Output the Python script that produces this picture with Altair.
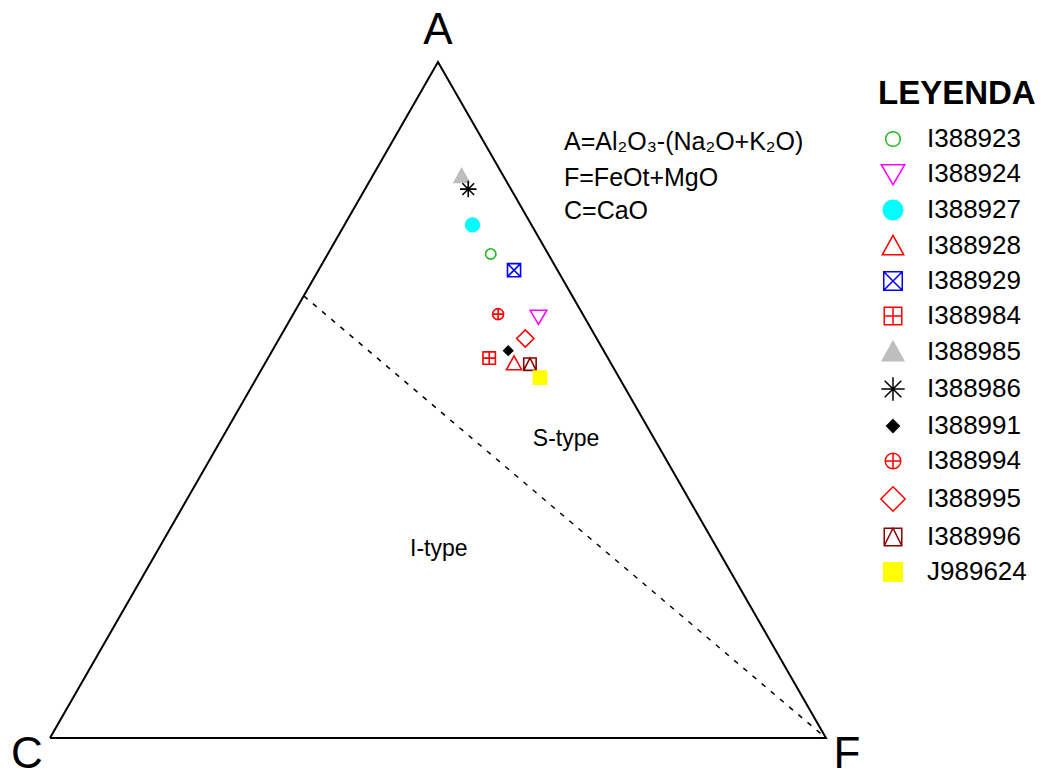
import altair as alt
import pandas as pd

# ---- data (ternary compositions, fractions of A + C + F = 1) ----
samples = ["I388923", "I388924", "I388927", "I388928", "I388929", "I388984",
           "I388985", "I388986", "I388991", "I388994", "I388995", "I388996", "J989624"]
A_vals = [0.716, 0.623, 0.759, 0.554, 0.692, 0.562, 0.831, 0.812, 0.573, 0.627, 0.591, 0.553, 0.533]
F_vals = [0.210, 0.318, 0.165, 0.321, 0.252, 0.285, 0.115, 0.133, 0.304, 0.264, 0.317, 0.342, 0.365]
C_vals = [round(1 - a - f, 3) for a, f in zip(A_vals, F_vals)]

stroke_colors = ["#22BB22", "#FF00FF", "#00FFFF", "#FF0000", "#0000FF", "#FF0000",
                 "#BEBEBE", "#000000", "#000000", "#FF0000", "#FF0000", "#8B0000", "#FFFF00"]
fill_colors = ["transparent", "transparent", "#00FFFF", "transparent", "transparent", "transparent",
               "#BEBEBE", "transparent", "#000000", "transparent", "transparent", "transparent", "#FFFF00"]
shapes = [
    "M-0.75,0A0.75,0.75 0 1,0 0.75,0A0.75,0.75 0 1,0 -0.75,0Z",
    "M-1.2,-0.95L1.2,-0.95L0,1.1Z",
    "circle",
    "M-1.1,0.9L1.1,0.9L0,-1.1Z",
    "M-0.95,-0.95H0.95V0.95H-0.95Z M-0.95,-0.95L0.95,0.95 M0.95,-0.95L-0.95,0.95",
    "M-0.9,-0.9H0.9V0.9H-0.9Z M0,-0.9V0.9 M-0.9,0H0.9",
    "M-1.1,0.9L1.1,0.9L0,-1.1Z",
    "M0,-1.2V1.2 M-1.2,0H1.2 M-0.85,-0.85L0.85,0.85 M0.85,-0.85L-0.85,0.85",
    "M0,-0.65L0.65,0L0,0.65L-0.65,0Z",
    "M-0.8,0A0.8,0.8 0 1,0 0.8,0A0.8,0.8 0 1,0 -0.8,0Z M0,-0.8V0.8 M-0.8,0H0.8",
    "M0,-1.25L1.25,0L0,1.25L-1.25,0Z",
    "M-0.9,-0.9H0.9V0.9H-0.9Z M-0.9,0.9L0,-0.9L0.9,0.9",
    "M-0.95,-0.95H0.95V0.95H-0.95Z",
]

# triangle outline: C -> F -> A -> C
outline_names = ["C", "F", "A", "C"]
outline_A = [0.0, 0.0, 1.0, 0.0]
outline_F = [0.0, 1.0, 0.0, 0.0]

# I/S-type boundary: from CA edge to F apex
bound_A = [0.654, 0.0]
bound_F = [0.0, 1.0]

# vertex labels
vert_names = ["A", "C", "F"]
vert_A = [1.0, 0.0, 0.0]
vert_F = [0.0, 0.0, 1.0]
vert_dx = [0, -23, 21]
vert_dy = [-18, 30, 30]

# region labels
region_names = ["S-type", "I-type"]
region_A = [0.442, 0.280]
region_F = [0.444, 0.361]

formula_lines = ["A=Al₂O₃-(Na₂O+K₂O)", "F=FeOt+MgO", "C=CaO"]
formula_ypix = [134, 170, 203]


def tern_x(a, f):
    return f + a / 2.0


pts = pd.DataFrame({"sample": samples, "A": A_vals, "C": C_vals, "F": F_vals})
pts["x"] = tern_x(pts["A"], pts["F"])
pts["y"] = pts["A"]

outline = pd.DataFrame({"v": outline_names, "A": outline_A, "F": outline_F,
                        "order": list(range(len(outline_names)))})
outline["x"] = tern_x(outline["A"], outline["F"])
outline["y"] = outline["A"]

bound = pd.DataFrame({"A": bound_A, "F": bound_F, "order": [0, 1]})
bound["x"] = tern_x(bound["A"], bound["F"])
bound["y"] = bound["A"]

regions = pd.DataFrame({"label": region_names, "A": region_A, "F": region_F})
regions["x"] = tern_x(regions["A"], regions["F"])
regions["y"] = regions["A"]

W, H = 1031, 761
xs = alt.Scale(domain=[-0.0541, -0.0541 + W / 776.0], nice=False, zero=False)
ys = alt.Scale(domain=[-0.04586, -0.04586 + H / 676.0], nice=False, zero=False)
X = lambda: alt.X("x:Q", scale=xs, axis=None)
Y = lambda: alt.Y("y:Q", scale=ys, axis=None)

FONT = "Liberation Sans"

tri = alt.Chart(outline).mark_line(color="black", strokeWidth=2).encode(
    x=X(), y=Y(), order="order:Q")

dashed = alt.Chart(bound).mark_line(color="black", strokeWidth=1.5, strokeDash=[5, 7]).encode(
    x=X(), y=Y(), order="order:Q")

vtext_layers = []
for name, a, f, dx, dy in zip(vert_names, vert_A, vert_F, vert_dx, vert_dy):
    d = pd.DataFrame({"label": [name], "x": [tern_x(a, f)], "y": [a]})
    vtext_layers.append(
        alt.Chart(d).mark_text(font=FONT, fontSize=44, align="center", baseline="alphabetic",
                               dx=dx, dy=dy, color="black").encode(x=X(), y=Y(), text="label:N"))

region_text = alt.Chart(regions).mark_text(font=FONT, fontSize=23, align="center",
                                           baseline="middle", color="black").encode(
    x=X(), y=Y(), text="label:N")

formula_layers = []
for t, yp in zip(formula_lines, formula_ypix):
    d = pd.DataFrame({"t": [t]})
    formula_layers.append(
        alt.Chart(d).mark_text(font=FONT, fontSize=25, align="left", baseline="middle",
                               color="black").encode(x=alt.value(556), y=alt.value(yp), text="t:N"))

leg = alt.Legend(orient="none", legendX=870, legendY=70, title="LEYENDA",
                 titleFont=FONT, titleFontSize=33, titleFontWeight="bold", titleColor="black",
                 titlePadding=15, labelFont=FONT, labelFontSize=26, labelColor="black",
                 symbolSize=380, symbolStrokeWidth=1.5, rowPadding=9, labelOffset=21,
                 symbolOffset=2, padding=0)

points = alt.Chart(pts).mark_point(size=190, strokeWidth=1.6, opacity=1).encode(
    x=X(), y=Y(),
    shape=alt.Shape("sample:N", scale=alt.Scale(domain=samples, range=shapes), legend=leg),
    stroke=alt.Stroke("sample:N", scale=alt.Scale(domain=samples, range=stroke_colors), legend=leg),
    fill=alt.Fill("sample:N", scale=alt.Scale(domain=samples, range=fill_colors), legend=leg),
)

chart = alt.layer(tri, dashed, *vtext_layers, region_text, *formula_layers, points).properties(
    width=W, height=H, padding=0, autosize=alt.AutoSizeParams(type="none")
).configure_view(stroke=None)

chart.save("out.html", embed_options={"renderer": "svg", "actions": False})
